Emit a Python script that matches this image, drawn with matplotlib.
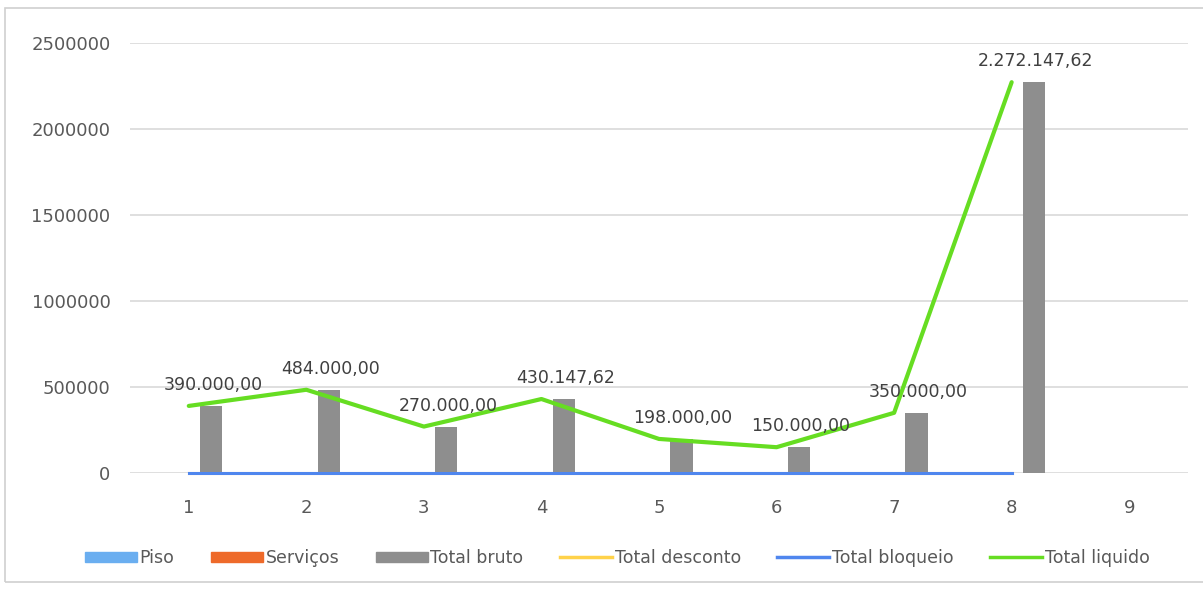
import matplotlib.pyplot as plt
from matplotlib.patches import Patch, Rectangle
from matplotlib.lines import Line2D
import numpy as np

plt.rcParams['font.family'] = ['DejaVu Sans']

# Categories and series
categories = [1, 2, 3, 4, 5, 6, 7, 8, 9]
piso = [0, 0, 0, 0, 0, 0, 0, 0]
servicos = [0, 0, 0, 0, 0, 0, 0, 0]
total_bruto = [390000, 484000, 270000, 430147.62, 198000, 150000, 350000, 2272147.62]
total_desconto = [0, 0, 0, 0, 0, 0, 0, 0]
total_bloqueio = [0, 0, 0, 0, 0, 0, 0, 0]
total_liquido = [390000, 484000, 270000, 430147.62, 198000, 150000, 350000, 2272147.62]
value_labels = ['390.000,00', '484.000,00', '270.000,00', '430.147,62',
                '198.000,00', '150.000,00', '350.000,00', '2.272.147,62']
y_ticks = [0, 500000, 1000000, 1500000, 2000000, 2500000]

c_piso = '#6aaef0'
c_serv = '#ee6a2a'
c_bruto = '#8e8e8e'
c_desc = '#ffd24a'
c_bloq = '#4f86ee'
c_liq = '#66dd22'

fig = plt.figure(figsize=(12.03, 5.9), dpi=100)
fig.patches.append(Rectangle((5 / 1203, 8 / 590), 1.2, 574 / 590, transform=fig.transFigure,
                             fill=False, edgecolor='#d0d0d0', linewidth=1.2))
ax = fig.add_axes([130 / 1203, 1 - 473 / 590, 1058 / 1203, 430 / 590])

x = np.array(categories[:len(total_bruto)], dtype=float)
w = 0.19
ax.bar(x - w, piso, width=w, color=c_piso, zorder=2)
ax.bar(x, servicos, width=w, color=c_serv, zorder=2)
ax.bar(x + w, total_bruto, width=w, color=c_bruto, zorder=2)

ax.plot(x, total_desconto, color=c_desc, linewidth=2.2, zorder=3, clip_on=False)
ax.plot(x, total_bloqueio, color=c_bloq, linewidth=2.2, zorder=3, clip_on=False)
ax.plot(x, total_liquido, color=c_liq, linewidth=3, zorder=4, solid_capstyle='round')

# value labels for the net total
for xi, v, t in zip(x, total_liquido, value_labels):
    ax.annotate(t, (xi, v), xytext=(24, 21), textcoords='offset pixels',
                ha='center', va='center', fontsize=12.5, color='#404040', zorder=5)

ax.set_xlim(0.5, 9.5)
ax.set_ylim(0, 2500000)
ax.set_xticks(categories)
ax.set_xticklabels([str(c) for c in categories])
ax.set_yticks(y_ticks)
ax.set_yticklabels([str(t) for t in y_ticks])
ax.tick_params(length=0, labelsize=13, colors='#595959')
ax.tick_params(axis='x', pad=19)
ax.tick_params(axis='y', pad=14)
ax.grid(axis='y', color='#d9d9d9', linewidth=1.2, zorder=0)
ax.set_axisbelow(True)
for s in ax.spines.values():
    s.set_visible(False)

handles = [
    Patch(color=c_piso, label='Piso'),
    Patch(color=c_serv, label='Serviços'),
    Patch(color=c_bruto, label='Total bruto'),
    Line2D([], [], color=c_desc, linewidth=2.5, label='Total desconto'),
    Line2D([], [], color=c_bloq, linewidth=2.5, label='Total bloqueio'),
    Line2D([], [], color=c_liq, linewidth=2.5, label='Total liquido'),
]
leg = fig.legend(handles=handles, loc='center', bbox_to_anchor=(0.513, 1 - 558 / 590), ncol=6,
                 frameon=False, fontsize=12.5, handlelength=3.0, handleheight=0.5,
                 columnspacing=2.1, handletextpad=0.15)
for t in leg.get_texts():
    t.set_color('#595959')

fig.savefig('out.png', dpi=100)
